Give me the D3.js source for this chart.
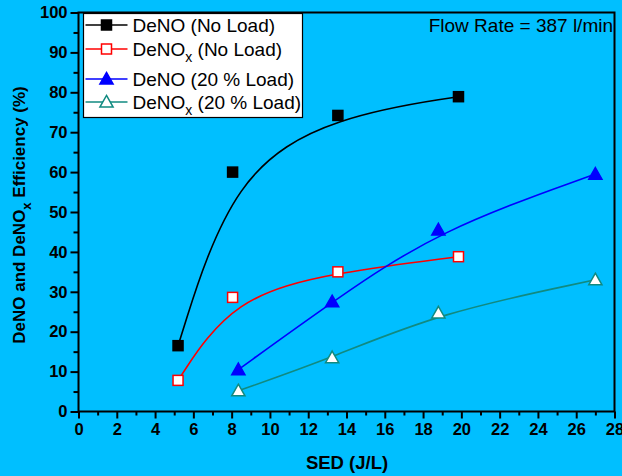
<!DOCTYPE html>
<html>
<head>
<meta charset="utf-8">
<script src="https://cdn.jsdelivr.net/npm/d3@7"></script>
<style>
  body { margin: 0; background: #00bfff; }
  svg { display: block; font-family: Arial, "Liberation Sans", sans-serif; }
</style>
</head>
<body>
<svg width="622" height="476"></svg>
<script>
// data
var sedNoLoad = [5.2, 8.05, 13.55, 19.85];
var sedLoad = [8.35, 13.25, 18.8, 27.0];
var denoNoLoad = [16.5, 60, 74.2, 78.9];
var denoxNoLoad = [7.8, 28.6, 35.0, 38.8];
var denoLoad = [10.5, 27.5, 45.5, 59.5];
var denoxLoad = [5.2, 13.5, 24.7, 33.0];
var xTicks = d3.range(0, 29, 2);
var yTicks = d3.range(0, 101, 10);

var series = [
  { name: "DeNO", tail: " (No Load)", sub: false, x: sedNoLoad, y: denoNoLoad, color: "#000000", shape: "square", filled: true },
  { name: "DeNO", tail: " (No Load)", sub: true, x: sedNoLoad, y: denoxNoLoad, color: "#ff0000", shape: "square", filled: false },
  { name: "DeNO", tail: " (20 % Load)", sub: false, x: sedLoad, y: denoLoad, color: "#0000ff", shape: "triangle", filled: true },
  { name: "DeNO", tail: " (20 % Load)", sub: true, x: sedLoad, y: denoxLoad, color: "#118a80", shape: "triangle", filled: false }
];

var svg = d3.select("svg"),
  margin = { top: 12.5, right: 7.5, bottom: 64.5, left: 78.5 },
  width = +svg.attr("width") - margin.left - margin.right,
  height = +svg.attr("height") - margin.top - margin.bottom;

var x = d3.scaleLinear().domain([0, 28]).range([0, width]),
  y = d3.scaleLinear().domain([0, 100]).range([height, 0]);

var g = svg.append("g").attr("transform", "translate(" + margin.left + "," + margin.top + ")");

// minor ticks
g.append("g").attr("transform", "translate(0," + height + ")")
  .call(d3.axisBottom(x).tickValues(d3.range(1, 28, 2)).tickSize(4).tickFormat(""))
  .call(function(a) { a.select(".domain").remove(); a.selectAll("line").attr("stroke-width", 2); });
g.append("g")
  .call(d3.axisLeft(y).tickValues(d3.range(5, 100, 10)).tickSize(5).tickFormat(""))
  .call(function(a) { a.select(".domain").remove(); a.selectAll("line").attr("stroke-width", 2); });

// major axes
function styleAxis(a) {
  a.select(".domain").remove();
  a.selectAll("line").attr("stroke-width", 2);
  a.selectAll("text").attr("font-size", 16.5).attr("font-weight", "bold").attr("fill", "#000")
    .attr("font-family", "Arial, 'Liberation Sans', sans-serif");
}
g.append("g").attr("transform", "translate(0," + height + ")")
  .call(d3.axisBottom(x).tickValues(xTicks).tickSize(7).tickPadding(5))
  .call(styleAxis);
g.append("g")
  .call(d3.axisLeft(y).tickValues(yTicks).tickSize(8).tickPadding(3))
  .call(styleAxis);

// frame
g.append("rect").attr("width", width).attr("height", height)
  .attr("fill", "none").attr("stroke", "#000").attr("stroke-width", 2);

// curves
var line = d3.line().curve(d3.curveBasis)
  .x(function(d) { return x(d[0]); })
  .y(function(d) { return y(d[1]); });

function marker(sel, s, size) {
  if (s.shape === "square") {
    sel.append("rect").attr("x", -size / 2).attr("y", -size / 2).attr("width", size).attr("height", size)
      .attr("fill", s.filled ? s.color : "#fff").attr("stroke", s.color).attr("stroke-width", 1.5);
  } else {
    sel.append("path").attr("d", "M0," + (-size * 0.55) + "L" + (size * 0.55) + "," + (size * 0.42) + "L" + (-size * 0.55) + "," + (size * 0.42) + "Z")
      .attr("fill", s.filled ? s.color : "#fff").attr("stroke", s.color).attr("stroke-width", 1.5);
  }
}

series.forEach(function(s) {
  var pts = s.x.map(function(v, i) { return [v, s.y[i]]; });
  g.append("path").datum(pts).attr("d", line)
    .attr("fill", "none").attr("stroke", s.color).attr("stroke-width", 1.6);
  g.selectAll(null).data(pts).enter().append("g")
    .attr("transform", function(d) { return "translate(" + x(d[0]) + "," + y(d[1]) + ")"; })
    .each(function() { marker(d3.select(this), s, s.shape === "square" ? 10 : 12); });
});

// legend
var leg = svg.append("g").attr("transform", "translate(83.5,13.5)");
leg.append("rect").attr("width", 219).attr("height", 104)
  .attr("fill", "#fff").attr("stroke", "#000").attr("stroke-width", 1.2);
var rowY = [11.5, 35.5, 65.5, 88.5];
series.forEach(function(s, i) {
  var r = leg.append("g").attr("transform", "translate(0," + rowY[i] + ")");
  r.append("line").attr("x1", 2).attr("x2", 44).attr("stroke", s.color).attr("stroke-width", 1.6);
  var m = r.append("g").attr("transform", "translate(23,0)");
  marker(m, s, s.shape === "square" ? 10 : 12);
  var t = r.append("text").attr("x", 49).attr("y", 6.5).attr("font-size", 19).attr("fill", "#000");
  t.append("tspan").text(s.name);
  if (s.sub) t.append("tspan").attr("dy", 6).attr("font-size", 14).text("x");
  t.append("tspan").attr("dy", s.sub ? -6 : 0).text(s.tail);
});

// annotation
svg.append("text").attr("x", 613).attr("y", 32).attr("text-anchor", "end")
  .attr("font-size", 19).attr("fill", "#000").text("Flow Rate = 387 l/min");

// axis titles
svg.append("text").attr("x", 347).attr("y", 469).attr("text-anchor", "middle")
  .attr("font-size", 18.5).attr("font-weight", "bold").text("SED (J/L)");

var yt = svg.append("text").attr("transform", "translate(25,215) rotate(-90)").attr("text-anchor", "middle")
  .attr("font-size", 17).attr("font-weight", "bold");
yt.append("tspan").text("DeNO and DeNO");
yt.append("tspan").attr("dy", 6).attr("font-size", 13).text("x");
yt.append("tspan").attr("dy", -6).text(" Efficiency (%)");
</script>
</body>
</html>
